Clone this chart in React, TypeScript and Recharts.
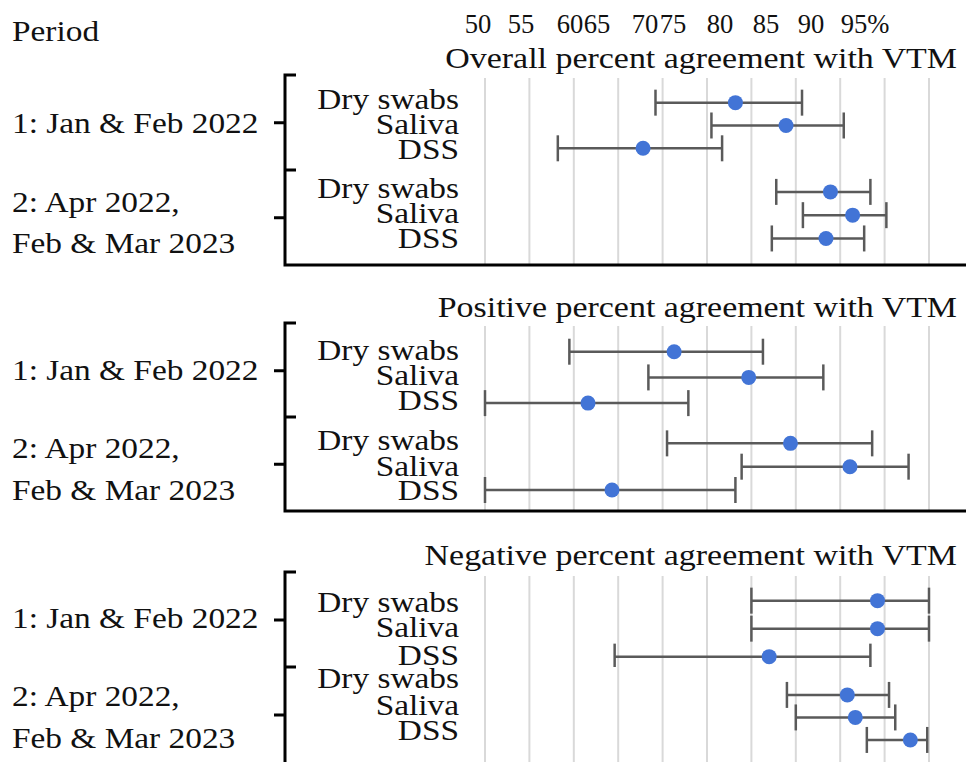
import { ScatterChart, Scatter, XAxis, YAxis, CartesianGrid, ErrorBar } from 'recharts';

const specimens = ['Dry swabs', 'Saliva', 'DSS'];
const periodLabels = [['1: Jan & Feb 2022'], ['2: Apr 2022,', 'Feb & Mar 2023']];
const panelTitles = [
  'Overall percent agreement with VTM',
  'Positive percent agreement with VTM',
  'Negative percent agreement with VTM',
];
const topLabels = ['50', '55', '60', '65', '70', '75', '80', '85', '90', '95%'];
const xTicks = [50, 55, 60, 65, 70, 75, 80, 85, 90, 95, 100];

// estimate and 95% CI, order: period 1 (dry swabs, saliva, DSS), period 2 (same)
const overallEst = [78.2, 83.9, 67.8, 88.9, 91.4, 88.4];
const overallLow = [69.2, 75.5, 58.2, 82.8, 85.8, 82.3];
const overallHigh = [85.7, 90.4, 76.7, 93.4, 95.2, 92.7];
const positiveEst = [71.3, 79.7, 61.6, 84.4, 91.1, 64.3];
const positiveLow = [59.5, 68.4, 50.0, 70.5, 78.9, 50.0];
const positiveHigh = [81.3, 88.1, 72.9, 93.6, 97.7, 78.2];
const negativeEst = [94.2, 94.2, 82.0, 90.8, 91.7, 97.9];
const negativeLow = [80.0, 80.0, 64.6, 84.0, 85.0, 93.0];
const negativeHigh = [100, 100, 93.4, 95.5, 96.2, 99.8];

const series = [
  [overallEst, overallLow, overallHigh],
  [positiveEst, positiveLow, positiveHigh],
  [negativeEst, negativeLow, negativeHigh],
];

// layout (pixels)
const topLabelX = [478, 521, 570, 597, 645, 673, 720, 766, 811, 865];
const panels = [
  {
    titleY: 68, bracket: [75, 170, 265], ticks: [122.7, 217.7], bottom: true,
    labelY: [109, 134, 159, 198, 223, 248], periodY: [[133], [212, 253]],
    groups: [
      { top: 78, h: 92, domain: [-1.08, 2.95] },
      { top: 170, h: 95, domain: [-0.94, 3.14] },
    ],
  },
  {
    titleY: 317, bracket: [323, 417, 511], ticks: [370.7, 464.3], bottom: true,
    labelY: [360, 385, 410, 450, 476, 500], periodY: [[380], [458, 500]],
    groups: [
      { top: 326, h: 91, domain: [-1.0, 2.54] },
      { top: 417, h: 94, domain: [-1.13, 2.9] },
    ],
  },
  {
    titleY: 565, bracket: [572, 667, 775], ticks: [620, 715], bottom: false,
    labelY: [612, 637, 665, 688, 715, 740], periodY: [[628], [706, 748]],
    groups: [
      { top: 576, h: 91, domain: [-0.88, 2.37] },
      { top: 667, h: 95, domain: [-1.24, 2.98] },
    ],
  },
];

const FONT = "'Liberation Serif', 'Times New Roman', serif";

const T = ({ x, y, anchor = 'start', size = 29, sx = 1.15, children }: any) => (
  <text
    transform={`translate(${x},${y}) scale(${sx},1)`}
    textAnchor={anchor}
    fontSize={size}
    fontFamily={FONT}
    fill="#111"
  >
    {children}
  </text>
);

const Dot = (p: any) => <circle cx={p.cx} cy={p.cy} r={7.5} fill="#4274d6" />;

const GroupChart = ({ rows, g }: any) => (
  <div style={{ position: 'absolute', left: 481, top: g.top, width: 452, height: g.h }}>
    <ScatterChart width={452} height={g.h} margin={{ top: 0, right: 4, bottom: 0, left: 4 }}>
      <CartesianGrid horizontal={false} stroke="#d9d9d9" strokeWidth={2} />
      <XAxis type="number" dataKey="est" domain={[50, 100]} ticks={xTicks} hide allowDataOverflow />
      <YAxis type="number" dataKey="row" domain={g.domain} reversed hide allowDataOverflow />
      <Scatter data={rows} shape={Dot} isAnimationActive={false}>
        <ErrorBar dataKey="err" direction="x" width={13} stroke="#5a5a5a" strokeWidth={2.5} isAnimationActive={false} />
      </Scatter>
    </ScatterChart>
  </div>
);

export default function App() {
  return (
    <div style={{ position: 'absolute', left: 0, top: 0, width: 966, height: 762, background: '#fff', overflow: 'hidden' }}>
      {panels.map((p, pi) =>
        p.groups.map((g, gi) => {
          const [est, low, high] = series[pi];
          const rows = specimens.map((name, si) => {
            const k = gi * 3 + si;
            return { name, row: si, est: est[k], err: [est[k] - low[k], high[k] - est[k]] };
          });
          return <GroupChart key={`${pi}-${gi}`} rows={rows} g={g} />;
        })
      )}
      <svg width={966} height={762} style={{ position: 'absolute', left: 0, top: 0, pointerEvents: 'none' }}>
        <T x={12} y={41}>Period</T>
        {topLabels.map((t, i) => (
          <T key={t} x={topLabelX[i]} y={33} anchor="middle" size={28} sx={0.95}>{t}</T>
        ))}
        {panels.map((p, pi) => {
          const [t, m, b] = p.bracket;
          return (
            <g key={pi}>
              <T x={957} y={p.titleY} anchor="end" sx={1.17}>{panelTitles[pi]}</T>
              <path
                d={`M296,${t} H285 V${b} ${p.bottom ? 'H966' : ''} M285,${m} H296 M274,${p.ticks[0]} H285 M274,${p.ticks[1]} H285`}
                fill="none"
                stroke="#000"
                strokeWidth={3}
              />
              {p.labelY.map((y, i) => (
                <T key={i} x={459} y={y} anchor="end">{specimens[i % 3]}</T>
              ))}
              {periodLabels.map((lines, li) =>
                lines.map((line, j) => (
                  <T key={`${li}-${j}`} x={12} y={p.periodY[li][j]}>{line}</T>
                ))
              )}
            </g>
          );
        })}
      </svg>
    </div>
  );
}
